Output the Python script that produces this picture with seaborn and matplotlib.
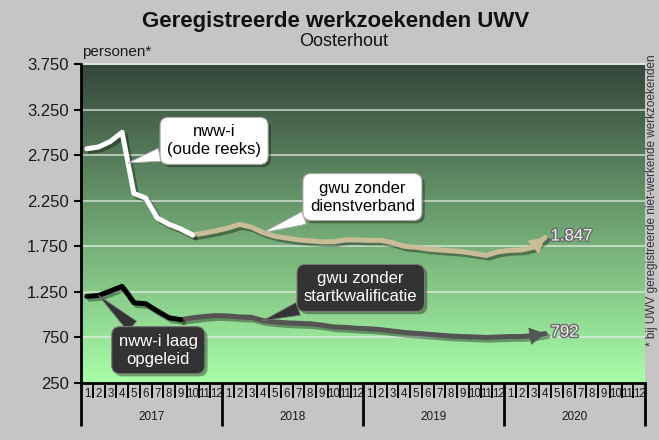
import numpy as np
import pandas as pd
import matplotlib
matplotlib.use("Agg")
import matplotlib.pyplot as plt
import matplotlib.patheffects as pe
from matplotlib.colors import to_rgb
import seaborn as sns

# ---------------- data ----------------
years = ["2017", "2018", "2019", "2020"]
months = [str(m) for m in range(1, 13)]

# month index (0 = jan 2017)
nww_oude_start = 0
nww_oude = [2820, 2840, 2900, 3000, 2330, 2280, 2060, 1990, 1940, 1873]

gwu_dienst_start = 9
gwu_dienst = [1873, 1895, 1920, 1950, 1990, 1960, 1900, 1860, 1840, 1820,
              1810, 1800, 1800, 1820, 1820, 1815, 1815, 1790, 1750, 1740,
              1720, 1710, 1700, 1690, 1670, 1650, 1690, 1705, 1710, 1740, 1847]

nww_laag_start = 0
nww_laag = [1200, 1210, 1260, 1310, 1130, 1120, 1040, 965, 945]

gwu_start_start = 8
gwu_start = [945, 965, 980, 990, 985, 975, 970, 935, 920, 910, 905, 900,
             885, 865, 860, 850, 845, 835, 820, 805, 795, 785, 775, 765,
             760, 755, 750, 755, 760, 760, 770, 792]

y_ticks = [250, 750, 1250, 1750, 2250, 2750, 3250, 3750]
y_ticklabels = ["250", "750", "1.250", "1.750", "2.250", "2.750", "3.250", "3.750"]

def frame(start, vals):
    return pd.DataFrame({"x": np.arange(start, start + len(vals)) + 0.5, "v": vals})

d_oude = frame(nww_oude_start, nww_oude)
d_dienst = frame(gwu_dienst_start, gwu_dienst)
d_laag = frame(nww_laag_start, nww_laag)
d_startk = frame(gwu_start_start, gwu_start)

# ---------------- style ----------------
sns.set_style("white")
plt.rcParams["font.family"] = ["Liberation Sans", "DejaVu Sans"]

BG = "#c5c5c5"
fig = plt.figure(figsize=(6.59, 4.4), dpi=100)
fig.patch.set_facecolor(BG)
ax = fig.add_axes([81 / 659, 1 - 383 / 440, 564 / 659, 319 / 440])
ax.set_facecolor(BG)

# gradient background
top = np.array(to_rgb("#33463a"))
bot = np.array(to_rgb("#a9ffa9"))
t = np.linspace(0, 1, 256)[:, None]
grad = (top[None, :] * (1 - t) + bot[None, :] * t)[:, None, :]
ax.imshow(grad, extent=[0, 48, 250, 3750], aspect="auto", zorder=0,
          interpolation="bicubic")

ax.set_xlim(0, 48)
ax.set_ylim(250, 3750)

# gridlines
for yv in y_ticks[1:]:
    ax.axhline(yv, color="#e6eee6", lw=1.1, alpha=0.85, zorder=1)

shadow = [pe.SimpleLineShadow(offset=(2, -2), shadow_color="black", alpha=0.35),
          pe.Normal()]

line_kw = dict(lw=3.6, solid_capstyle="round", solid_joinstyle="round",
               path_effects=shadow, legend=False)
sns.lineplot(data=d_dienst, x="x", y="v", ax=ax, color="#c8bd96", zorder=3, **line_kw)
sns.lineplot(data=d_oude, x="x", y="v", ax=ax, color="white", zorder=4, **line_kw)
sns.lineplot(data=d_startk, x="x", y="v", ax=ax, color="#545454", zorder=3, **line_kw)
sns.lineplot(data=d_laag, x="x", y="v", ax=ax, color="black", zorder=4, **line_kw)

# arrow heads at series ends
for d, c in [(d_dienst, "#c8bd96"), (d_startk, "#545454")]:
    ax.annotate("", xy=(d.x.iloc[-1], d.v.iloc[-1]),
                xytext=(d.x.iloc[-2], d.v.iloc[-2]),
                arrowprops=dict(arrowstyle="-|>,head_length=0.8,head_width=0.45",
                                color=c, lw=0, mutation_scale=14,
                                shrinkA=0, shrinkB=0),
                zorder=5)

# end value labels
val_fx = [pe.withStroke(linewidth=2, foreground="#6a6a6a")]
for d in [d_dienst, d_startk]:
    v = d.v.iloc[-1]
    ax.annotate(f"{v:,}".replace(",", "."), xy=(d.x.iloc[-1], v),
                xytext=(4, 1), textcoords="offset points", va="center",
                ha="left", fontsize=12, color="#f2f2f2", path_effects=val_fx,
                zorder=6)

# callouts
box_shadow = [pe.withSimplePatchShadow(offset=(2, -2), shadow_rgbFace="black", alpha=0.35)]

def callout(text, xy, xytext, light):
    fc = "white" if light else "#333333"
    tc = "black" if light else "white"
    ec = "#aaaaaa" if light else "#777777"
    ann = ax.annotate(text, xy=xy, xytext=xytext, textcoords="axes fraction",
                      ha="center", va="center", fontsize=12, color=tc,
                      linespacing=1.25, zorder=7,
                      bbox=dict(boxstyle="round,pad=0.42,rounding_size=0.5",
                                fc=fc, ec=ec, lw=0.8),
                      arrowprops=dict(arrowstyle="wedge,tail_width=0.8",
                                      fc=fc, ec=ec, lw=0.6, shrinkA=0, shrinkB=0))
    ann.get_bbox_patch().set_path_effects(box_shadow)
    return ann

callout("nww-i\n(oude reeks)",
        ((d_oude.x[3] + d_oude.x[4]) / 2, (d_oude.v[3] + d_oude.v[4]) / 2),
        (0.236, 0.759), True)
callout("gwu zonder\ndienstverband", (d_dienst.x[6], d_dienst.v[6]),
        (0.499, 0.583), True)
callout("gwu zonder\nstartkwalificatie", (d_startk.x[7], d_startk.v[7]),
        (0.496, 0.298), False)
callout("nww-i laag\nopgeleid", (d_laag.x[1], d_laag.v[1]),
        (0.137, 0.103), False)

# y axis
ax.set_yticks(y_ticks)
ax.set_yticklabels(y_ticklabels, fontsize=12, color="#1a1a1a")
ax.tick_params(axis="y", left=True, length=5, width=1.5, color="black", pad=4)
ax.set_ylabel("")

# x axis
ax.set_xticks([0, 12, 24, 36, 48])
ax.set_xticks(np.arange(0, 49), minor=True)
ax.set_xticklabels([])
ax.tick_params(axis="x", which="major", bottom=True, length=31, width=2,
               color="black")
ax.tick_params(axis="x", which="minor", bottom=True, length=11, width=1.4,
               color="black")
ax.set_xlabel("")

for yi, y in enumerate(years):
    for mi, m in enumerate(months):
        ax.text(yi * 12 + mi + 0.5, -0.033, m, transform=ax.get_xaxis_transform(),
                ha="center", va="center", fontsize=8.3, color="#1a1a1a")
    ax.text(yi * 12 + 6, -0.107, y, transform=ax.get_xaxis_transform(),
            ha="center", va="center", fontsize=8.5, color="#1a1a1a")

for s in ["top", "right"]:
    ax.spines[s].set_visible(False)
ax.spines["left"].set_color("black")
ax.spines["left"].set_linewidth(2)
ax.spines["bottom"].set_color("black")
ax.spines["bottom"].set_linewidth(2)
ax.axhline(3750, color="#e6eee6", lw=1.2, zorder=1, clip_on=False)

# texts
fig.text(336 / 659, 1 - 22 / 440, "Geregistreerde werkzoekenden UWV",
         ha="center", va="center", fontsize=16, fontweight="bold", color="#111111")
fig.text(344 / 659, 1 - 42 / 440, "Oosterhout", ha="center", va="center",
         fontsize=13, color="#111111")
fig.text(82 / 659, 1 - 52 / 440, "personen*", ha="left", va="center",
         fontsize=11, color="#1a1a1a")
fig.text(652 / 659, 1 - 200 / 440,
         "* bij UWV geregistreerde niet-werkende werkzoekenden",
         rotation=90, ha="center", va="center", fontsize=8.5, color="#333333")

fig.savefig("out.png", dpi=100, facecolor=BG)
